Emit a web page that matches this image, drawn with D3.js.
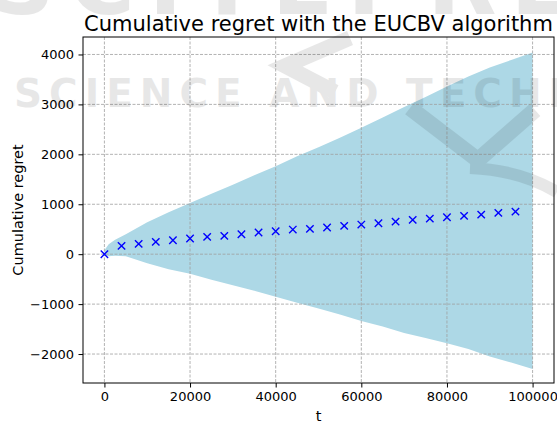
<!DOCTYPE html>
<html>
<head>
<meta charset="utf-8">
<script src="https://cdn.jsdelivr.net/npm/d3@7/dist/d3.min.js"></script>
<style>
  body { margin: 0; background: white; }
  svg { display: block; font-family: "DejaVu Sans", sans-serif; }
</style>
</head>
<body>
<div id="graphique"></div>
<script>
// Bande (fill_between) : t et bornes
const tBande = [0, 1000, 2500, 5000, 10000, 15000, 20000, 25000, 30000, 35000, 40000, 45000,
    50000, 55000, 60000, 65000, 70000, 75000, 80000, 85000, 90000, 95000, 100000];
const bandeHaute = [80, 200, 290, 400, 640, 840, 1027, 1210, 1390, 1580, 1760, 1960,
    2140, 2330, 2533, 2740, 2950, 3150, 3360, 3560, 3740, 3890, 4040];
const bandeBasse = [-10, -40, -30, -40, -180, -300, -390, -510, -620, -730, -850, -975,
    -1090, -1210, -1336, -1450, -1580, -1680, -1785, -1900, -2050, -2170, -2300];

// Marqueurs x (regret moyen)
const tMarqueurs = [0, 4000, 8000, 12000, 16000, 20000, 24000, 28000, 32000, 36000, 40000, 44000,
    48000, 52000, 56000, 60000, 64000, 68000, 72000, 76000, 80000, 84000, 88000, 92000, 96000];
const regretMoyen = [0, 167, 207, 247, 280, 313, 347, 367, 400, 433, 460, 493,
    507, 535, 567, 593, 620, 653, 687, 713, 740, 767, 793, 827, 853];

// Graduations
const xTicks = [0, 20000, 40000, 60000, 80000, 100000];
const yTicks = [-2000, -1000, 0, 1000, 2000, 3000, 4000];

const largeur = 557, hauteur = 424;
const gauche = 83, droite = 554, haut = 37, bas = 383;

const svg = d3.select("#graphique")
    .append("svg")
    .attr("width", largeur)
    .attr("height", hauteur);

const x = d3.scaleLinear().domain([-5000, 105000]).range([gauche, droite]);
const y = d3.scaleLinear().domain([-2580, 4350]).range([bas, haut]);

// La bande bleu clair
const aire = d3.area()
    .x((d, i) => x(tBande[i]))
    .y0((d, i) => y(bandeBasse[i]))
    .y1((d, i) => y(bandeHaute[i]));

svg.append("path")
    .datum(tBande)
    .attr("d", aire)
    .attr("fill", "#add8e6");

// Grille en tirets (au dessus de la bande)
const grille = svg.append("g").attr("id", "grille");
grille.selectAll(".gx").data(xTicks).enter().append("line")
    .attr("x1", d => x(d)).attr("x2", d => x(d))
    .attr("y1", haut).attr("y2", bas)
    .attr("stroke", "#a0a0a0").attr("stroke-width", 0.8).attr("stroke-dasharray", "3,1.5");
grille.selectAll(".gy").data(yTicks).enter().append("line")
    .attr("x1", gauche).attr("x2", droite)
    .attr("y1", d => y(d)).attr("y2", d => y(d))
    .attr("stroke", "#a0a0a0").attr("stroke-width", 0.8).attr("stroke-dasharray", "3,1.5");

// Les croix bleues
svg.append("g").selectAll("path")
    .data(tMarqueurs)
    .enter().append("path")
    .attr("transform", (d, i) => "translate(" + x(d) + "," + y(regretMoyen[i]) + ")")
    .attr("d", "M-3.7,-3.7L3.7,3.7M-3.7,3.7L3.7,-3.7")
    .attr("stroke", "#0000ff")
    .attr("stroke-width", 1.4)
    .attr("fill", "none");

// Axes
const fmt = d3.format("d");
const axeX = svg.append("g")
    .attr("transform", "translate(0," + bas + ")")
    .call(d3.axisBottom(x).tickValues(xTicks).tickFormat(fmt).tickSize(4.5).tickPadding(4));
const axeY = svg.append("g")
    .attr("transform", "translate(" + gauche + ",0)")
    .call(d3.axisLeft(y).tickValues(yTicks).tickFormat(fmt).tickSize(4.5).tickPadding(4.5));

[axeX, axeY].forEach(a => {
    a.select(".domain").remove();
    a.selectAll("text").attr("font-size", 13).attr("fill", "#000")
        .attr("font-family", "DejaVu Sans, sans-serif");
    a.selectAll("line").attr("stroke", "#000").attr("stroke-width", 1);
});

// Cadre
svg.append("rect")
    .attr("x", gauche).attr("y", haut)
    .attr("width", droite - gauche).attr("height", bas - haut)
    .attr("fill", "none").attr("stroke", "#000").attr("stroke-width", 1);

// Titres
svg.append("text")
    .attr("x", (gauche + droite) / 2).attr("y", 31)
    .attr("text-anchor", "middle").attr("font-size", 21)
    .text("Cumulative regret with the EUCBV algorithm");
svg.append("text")
    .attr("x", (gauche + droite) / 2).attr("y", 421)
    .attr("text-anchor", "middle").attr("font-size", 14.5)
    .text("t");
svg.append("text")
    .attr("transform", "translate(23," + (haut + bas) / 2 + ") rotate(-90)")
    .attr("text-anchor", "middle").attr("font-size", 14.5)
    .text("Cumulative regret");

// Filigrane gris tres clair par dessus (logo de la revue)
const filigrane = svg.append("g").attr("opacity", 0.09).attr("fill", "#000").attr("stroke", "#000");
filigrane.append("text")
    .attr("x", 14).attr("y", 107)
    .attr("font-size", 39).attr("font-weight", "bold").attr("letter-spacing", 7)
    .attr("stroke", "none")
    .text("SCIENCE AND TECHNOLOGY");
filigrane.append("text")
    .attr("x", -10).attr("y", 14)
    .attr("font-size", 90).attr("font-weight", "bold").attr("letter-spacing", 14)
    .attr("stroke", "none")
    .text("SCITEPRESS");
filigrane.append("path")
    .attr("d", "M350,38 L285,66 L335,92")
    .attr("fill", "none").attr("stroke-width", 15);
filigrane.append("path")
    .attr("d", "M410,108 L478,160 L535,110")
    .attr("fill", "none").attr("stroke-width", 16);
filigrane.append("path")
    .attr("d", "M470,168 Q520,170 557,192")
    .attr("fill", "none").attr("stroke-width", 12);
</script>
</body>
</html>
